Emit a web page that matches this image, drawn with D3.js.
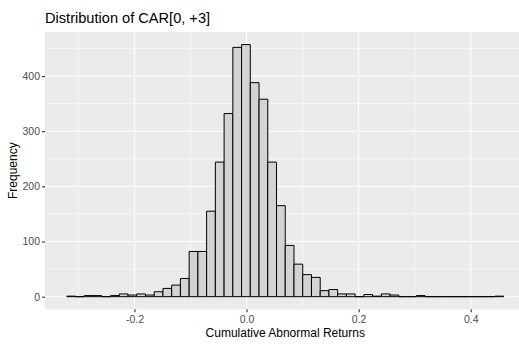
<!DOCTYPE html>
<html>
<head>
<meta charset="utf-8">
<script src="https://cdn.jsdelivr.net/npm/d3@7"></script>
<style>
  body { margin: 0; background: #fff; }
  text { font-family: "Liberation Sans", Arial, sans-serif; }
</style>
</head>
<body>
<div id="chart"></div>
<script>

// histogram bins (50 bins)
var binStart = -0.3207
var binWidth = 0.01559
var counts = [1, 0, 2, 2, 0, 2, 5, 3, 5, 3,
              9, 15, 21, 33, 82, 82, 155, 244, 332, 452,
              457, 388, 358, 244, 165, 93, 59, 40, 35, 11,
              13, 5, 5, 0, 4, 1, 5, 3, 0, 0,
              2, 0, 0, 0, 0, 0, 0, 0, 0, 1]

var xTicks = [-0.2, 0, 0.2, 0.4]
var xMinor = [-0.3, -0.1, 0.1, 0.3]
var yTicks = [0, 100, 200, 300, 400]
var yMinor = [50, 150, 250, 350, 450]

var titleText = 'Distribution of CAR[0, +3]'
var xTitle = 'Cumulative Abnormal Returns'
var yTitle = 'Frequency'

var width = 519, height = 345
var panel = { left: 45, right: 525.5, top: 32, bottom: 309.3 }

var bins = counts.map(function(c, i){
  return { x0: binStart + i * binWidth, x1: binStart + (i + 1) * binWidth, n: c }
})

var svg = d3.select('#chart').append('svg')
  .attr('width', width)
  .attr('height', height)

// ggplot style 5% expansion
var xLo = bins[0].x0, xHi = bins[bins.length - 1].x1
var xPad = (xHi - xLo) * 0.05
var x = d3.scaleLinear().domain([xLo - xPad, xHi + xPad]).range([panel.left, panel.right])

var yMax = d3.max(counts)
var y = d3.scaleLinear().domain([-yMax * 0.05, yMax * 1.05]).range([panel.bottom, panel.top])

svg.append('rect')
  .attr('x', panel.left).attr('y', panel.top)
  .attr('width', panel.right - panel.left).attr('height', panel.bottom - panel.top)
  .attr('fill', '#ebebeb')

var grid = svg.append('g')

grid.selectAll('.xminor').data(xMinor).enter().append('line')
  .attr('x1', function(d){ return x(d) }).attr('x2', function(d){ return x(d) })
  .attr('y1', panel.top).attr('y2', panel.bottom)
  .attr('stroke', '#fff').attr('stroke-width', 0.55)

grid.selectAll('.yminor').data(yMinor).enter().append('line')
  .attr('y1', function(d){ return y(d) }).attr('y2', function(d){ return y(d) })
  .attr('x1', panel.left).attr('x2', panel.right)
  .attr('stroke', '#fff').attr('stroke-width', 0.55)

grid.selectAll('.xmajor').data(xTicks).enter().append('line')
  .attr('x1', function(d){ return x(d) }).attr('x2', function(d){ return x(d) })
  .attr('y1', panel.top).attr('y2', panel.bottom)
  .attr('stroke', '#fff').attr('stroke-width', 1.1)

grid.selectAll('.ymajor').data(yTicks).enter().append('line')
  .attr('y1', function(d){ return y(d) }).attr('y2', function(d){ return y(d) })
  .attr('x1', panel.left).attr('x2', panel.right)
  .attr('stroke', '#fff').attr('stroke-width', 1.1)

// bars as paths so empty bins still show a line on the baseline
svg.append('g').selectAll('path').data(bins).enter().append('path')
  .attr('d', function(d){
    var x0 = x(d.x0), x1 = x(d.x1), y0 = y(0), y1 = y(d.n)
    return 'M' + x0 + ',' + y0 + 'V' + y1 + 'H' + x1 + 'V' + y0 + 'Z'
  })
  .attr('fill', '#d3d3d3')
  .attr('stroke', '#000')
  .attr('stroke-width', 1)

// axes (R prints a plain hyphen for negatives)
var xAxis = svg.append('g')
  .attr('transform', 'translate(0,' + panel.bottom + ')')
  .call(d3.axisBottom(x).tickValues(xTicks).tickSize(3).tickPadding(3)
    .tickFormat(function(d){ return d.toFixed(1) }))

var yAxis = svg.append('g')
  .attr('transform', 'translate(' + panel.left + ',0)')
  .call(d3.axisLeft(y).tickValues(yTicks).tickSize(3).tickPadding(2))

;[xAxis, yAxis].forEach(function(a){
  a.select('.domain').remove()
  a.selectAll('.tick line').attr('stroke', '#333').attr('stroke-width', 1.1)
  a.selectAll('.tick text').attr('fill', '#4d4d4d').style('font-size', '10.5px')
    .style('font-family', '"Liberation Sans", Arial, sans-serif')
})

svg.append('text')
  .attr('x', panel.left).attr('y', 23.3)
  .style('font-size', '14.6px').attr('fill', '#000')
  .text(titleText)

svg.append('text')
  .attr('x', (panel.left + panel.right) / 2).attr('y', 337.3)
  .attr('text-anchor', 'middle')
  .style('font-size', '12px').attr('fill', '#000')
  .text(xTitle)

svg.append('text')
  .attr('transform', 'translate(16.5,' + (panel.top + panel.bottom) / 2 + ') rotate(-90)')
  .attr('text-anchor', 'middle')
  .style('font-size', '12px').attr('fill', '#000')
  .text(yTitle)

</script>
</body>
</html>
